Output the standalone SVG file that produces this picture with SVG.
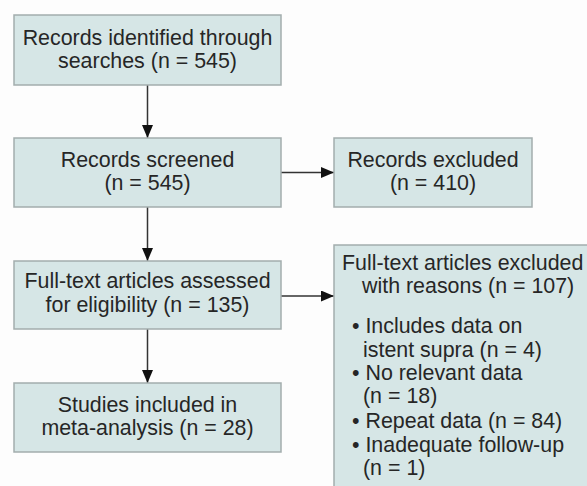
<svg xmlns="http://www.w3.org/2000/svg" width="587" height="486" viewBox="0 0 587 486">
<style>
.box{fill:#d6e6e6;stroke:#a3adad;stroke-width:1.5}
.t{font-family:"Liberation Sans",Arial,sans-serif;font-size:21.4px;fill:#262626}
.c{text-anchor:middle}
.ln{stroke:#333;stroke-width:1.5;fill:none;marker-end:url(#ah)}
</style>
<defs>
<marker id="ah" markerWidth="13" markerHeight="11" refX="13" refY="5.5" orient="auto" markerUnits="userSpaceOnUse">
<path d="M0,0 L13,5.5 L0,11 Z" fill="#111"/>
</marker>
</defs>
<rect width="587" height="486" fill="#fdfdfd"/>
<g id="connectors">
<line class="ln" x1="147.5" y1="85" x2="147.5" y2="138"/>
<line class="ln" x1="147.5" y1="207" x2="147.5" y2="261"/>
<line class="ln" x1="147.5" y1="329" x2="147.5" y2="383"/>
<line class="ln" x1="281" y1="172.5" x2="334" y2="172.5"/>
<line class="ln" x1="281" y1="296" x2="334" y2="296"/>
</g>
<g id="identified">
<rect class="box" x="14" y="15" width="267" height="70"/>
<text class="t c" x="147.5" y="45">Records identified through</text>
<text class="t c" x="147.5" y="68">searches (n = 545)</text>
</g>
<g id="screened">
<rect class="box" x="14" y="138" width="267" height="69"/>
<text class="t c" x="147.5" y="167">Records screened</text>
<text class="t c" x="147.5" y="190">(n = 545)</text>
</g>
<g id="assessed">
<rect class="box" x="14" y="261" width="267" height="68"/>
<text class="t c" x="147.5" y="288">Full-text articles assessed</text>
<text class="t c" x="147.5" y="312">for eligibility (n = 135)</text>
</g>
<g id="included">
<rect class="box" x="14" y="383" width="267" height="69"/>
<text class="t c" x="147.5" y="412">Studies included in</text>
<text class="t c" x="147.5" y="435">meta-analysis (n = 28)</text>
</g>
<g id="excluded">
<rect class="box" x="334" y="138" width="198" height="69"/>
<text class="t c" x="433" y="167">Records excluded</text>
<text class="t c" x="433" y="190">(n = 410)</text>
</g>
<g id="fulltext-excluded">
<rect class="box" x="334" y="245" width="260" height="250"/>
<text class="t" x="342" y="270">Full-text articles excluded</text>
<text class="t" x="362" y="293">with reasons (n = 107)</text>
<text class="t" x="352" y="333">• Includes data on</text>
<text class="t" x="363" y="357">istent supra (n = 4)</text>
<text class="t" x="352" y="380">• No relevant data</text>
<text class="t" x="363" y="403">(n = 18)</text>
<text class="t" x="352" y="428">• Repeat data (n = 84)</text>
<text class="t" x="352" y="452">• Inadequate follow-up</text>
<text class="t" x="363" y="475">(n = 1)</text>
</g>
</svg>
